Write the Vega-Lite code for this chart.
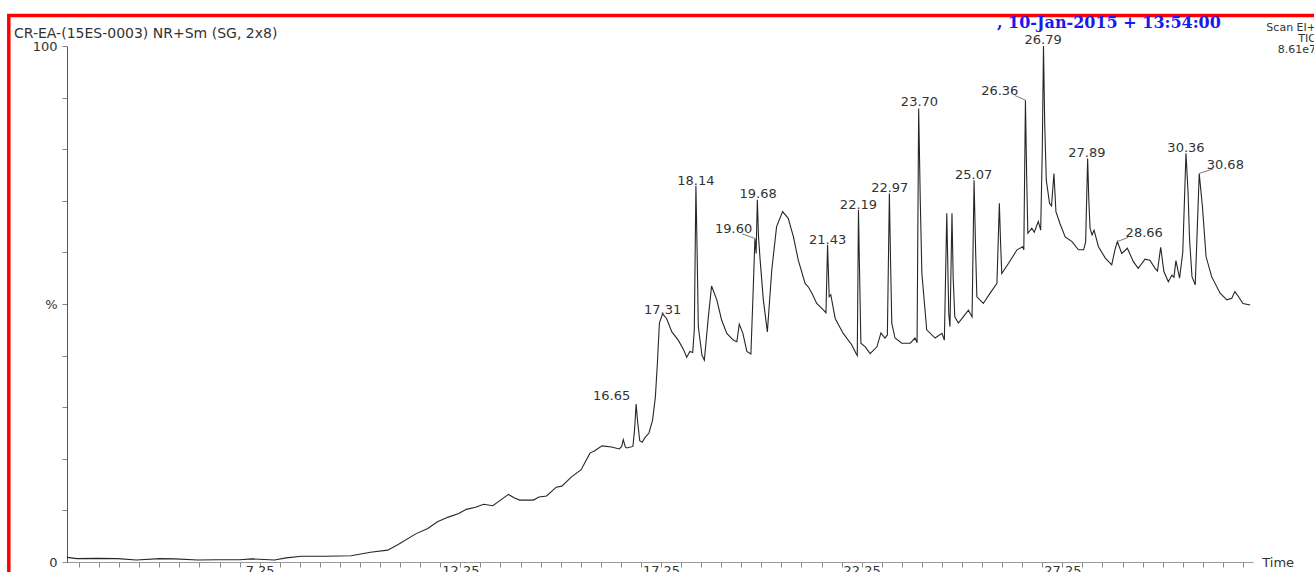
{
"$schema":"https://vega.github.io/schema/vega-lite/v6.json",
"width":1186,"height":516,
"autosize":"none",
"padding":{"left":67,"top":46,"right":61,"bottom":10},
"background":"white",
"config":{"view":{"stroke":null},"font":"DejaVu Sans"},
"data":{"values":[{}]},
"resolve":{"axis":{"x":"independent","y":"independent"}},
"datasets":{
"tic":[
{"t":2.45,"i":0.9},{"t":2.70,"i":0.65},{"t":3.20,"i":0.7},{"t":3.71,"i":0.65},{"t":4.18,"i":0.4},{"t":4.76,"i":0.65},{"t":5.14,"i":0.6},{"t":5.71,"i":0.4},{"t":6.20,"i":0.45},{"t":6.76,"i":0.45},{"t":7.05,"i":0.6},{"t":7.62,"i":0.4},{"t":7.91,"i":0.8},{"t":8.29,"i":1.1},{"t":8.90,"i":1.1},{"t":9.53,"i":1.2},{"t":10.01,"i":1.9},{"t":10.44,"i":2.3},{"t":10.68,"i":3.3},{"t":11.15,"i":5.5},{"t":11.44,"i":6.5},{"t":11.68,"i":7.8},{"t":11.95,"i":8.7},{"t":12.21,"i":9.4},{"t":12.40,"i":10.2},{"t":12.63,"i":10.6},{"t":12.83,"i":11.2},{"t":13.06,"i":10.9},{"t":13.25,"i":12.0},{"t":13.45,"i":13.1},{"t":13.60,"i":12.4},{"t":13.73,"i":12.0},{"t":14.07,"i":12.0},{"t":14.21,"i":12.6},{"t":14.40,"i":12.8},{"t":14.64,"i":14.5},{"t":14.78,"i":14.7},{"t":15.02,"i":16.5},{"t":15.26,"i":17.9},{"t":15.48,"i":21.1},{"t":15.59,"i":21.5},{"t":15.78,"i":22.5},{"t":16.02,"i":22.3},{"t":16.21,"i":21.9},{"t":16.27,"i":22.4},{"t":16.31,"i":23.7},{"t":16.36,"i":22.3},{"t":16.40,"i":22.1},{"t":16.55,"i":22.4},{"t":16.59,"i":25.5},{"t":16.63,"i":30.6},{"t":16.67,"i":27},{"t":16.72,"i":23.5},{"t":16.78,"i":23.2},{"t":16.86,"i":24.2},{"t":16.95,"i":25},{"t":17.04,"i":27.5},{"t":17.11,"i":32},{"t":17.16,"i":38.5},{"t":17.21,"i":46.3},{"t":17.29,"i":48.1},{"t":17.39,"i":47.2},{"t":17.52,"i":44.6},{"t":17.68,"i":43.0},{"t":17.81,"i":41.2},{"t":17.89,"i":39.7},{"t":17.97,"i":40.8},{"t":18.04,"i":40.6},{"t":18.08,"i":45},{"t":18.12,"i":72.9},{"t":18.15,"i":60},{"t":18.18,"i":45.6},{"t":18.27,"i":40.1},{"t":18.33,"i":39.1},{"t":18.43,"i":47.5},{"t":18.51,"i":53.5},{"t":18.64,"i":50.8},{"t":18.76,"i":46.9},{"t":18.89,"i":44.3},{"t":19.05,"i":43.0},{"t":19.14,"i":42.7},{"t":19.20,"i":46.1},{"t":19.29,"i":44.3},{"t":19.39,"i":40.8},{"t":19.49,"i":40.3},{"t":19.55,"i":53.4},{"t":19.59,"i":62.7},{"t":19.62,"i":59.8},{"t":19.65,"i":70.2},{"t":19.68,"i":63},{"t":19.72,"i":58.5},{"t":19.80,"i":50.8},{"t":19.90,"i":44.6},{"t":20.01,"i":56.6},{"t":20.13,"i":65.0},{"t":20.28,"i":67.9},{"t":20.42,"i":66.6},{"t":20.55,"i":63.0},{"t":20.67,"i":58.5},{"t":20.84,"i":54.0},{"t":20.93,"i":53.2},{"t":21.01,"i":52.1},{"t":21.13,"i":50.1},{"t":21.30,"i":48.8},{"t":21.36,"i":48.3},{"t":21.40,"i":61.5},{"t":21.44,"i":51.4},{"t":21.48,"i":51.8},{"t":21.59,"i":47.2},{"t":21.79,"i":44.3},{"t":22.00,"i":42.1},{"t":22.11,"i":40.4},{"t":22.14,"i":40.0},{"t":22.17,"i":68.2},{"t":22.20,"i":55},{"t":22.23,"i":42.4},{"t":22.34,"i":41.7},{"t":22.46,"i":40.4},{"t":22.63,"i":41.7},{"t":22.73,"i":44.4},{"t":22.83,"i":43.4},{"t":22.89,"i":44},{"t":22.94,"i":71.4},{"t":22.97,"i":58},{"t":23.00,"i":46.3},{"t":23.08,"i":43.4},{"t":23.25,"i":42.4},{"t":23.46,"i":42.4},{"t":23.58,"i":43.4},{"t":23.63,"i":42.5},{"t":23.67,"i":87.9},{"t":23.71,"i":70},{"t":23.75,"i":55.9},{"t":23.87,"i":45.0},{"t":24.08,"i":43.4},{"t":24.25,"i":44.3},{"t":24.31,"i":43.0},{"t":24.37,"i":67.6},{"t":24.42,"i":48},{"t":24.45,"i":45.6},{"t":24.50,"i":67.6},{"t":24.53,"i":55},{"t":24.57,"i":47.5},{"t":24.66,"i":46.3},{"t":24.78,"i":47.5},{"t":24.91,"i":48.8},{"t":25.00,"i":47.5},{"t":25.05,"i":74.0},{"t":25.09,"i":60},{"t":25.12,"i":51.4},{"t":25.28,"i":50.1},{"t":25.45,"i":52.1},{"t":25.62,"i":54.0},{"t":25.68,"i":69.5},{"t":25.71,"i":62},{"t":25.74,"i":55.9},{"t":25.91,"i":57.9},{"t":26.12,"i":60.5},{"t":26.26,"i":61.1},{"t":26.29,"i":60.5},{"t":26.33,"i":89.5},{"t":26.36,"i":75},{"t":26.39,"i":63.7},{"t":26.49,"i":64.7},{"t":26.55,"i":63.9},{"t":26.65,"i":66.0},{"t":26.71,"i":64.3},{"t":26.75,"i":80},{"t":26.78,"i":100},{"t":26.81,"i":85},{"t":26.85,"i":74},{"t":26.93,"i":69.5},{"t":26.98,"i":69},{"t":27.04,"i":75.3},{"t":27.09,"i":67.9},{"t":27.19,"i":65.6},{"t":27.32,"i":63.0},{"t":27.49,"i":62.1},{"t":27.65,"i":60.5},{"t":27.78,"i":60.5},{"t":27.83,"i":62},{"t":27.88,"i":78.2},{"t":27.91,"i":70},{"t":27.94,"i":64.7},{"t":27.99,"i":63.4},{"t":28.04,"i":64.3},{"t":28.15,"i":61.1},{"t":28.32,"i":58.9},{"t":28.48,"i":57.6},{"t":28.56,"i":60.5},{"t":28.62,"i":62.1},{"t":28.73,"i":59.8},{"t":28.87,"i":60.8},{"t":29.02,"i":58.2},{"t":29.14,"i":56.9},{"t":29.31,"i":58.7},{"t":29.43,"i":58.5},{"t":29.56,"i":56.9},{"t":29.62,"i":56.4},{"t":29.70,"i":61.0},{"t":29.78,"i":56.3},{"t":29.89,"i":54.3},{"t":29.98,"i":55.6},{"t":30.03,"i":55.2},{"t":30.08,"i":58.4},{"t":30.17,"i":55.0},{"t":30.25,"i":60},{"t":30.33,"i":79.2},{"t":30.38,"i":72},{"t":30.42,"i":62.4},{"t":30.48,"i":55.3},{"t":30.56,"i":53.7},{"t":30.60,"i":62},{"t":30.66,"i":75.3},{"t":30.74,"i":68.9},{"t":30.83,"i":59.2},{"t":30.97,"i":55.3},{"t":31.18,"i":52.1},{"t":31.35,"i":50.8},{"t":31.47,"i":51.1},{"t":31.55,"i":52.4},{"t":31.64,"i":51.4},{"t":31.75,"i":50.1},{"t":31.93,"i":49.8}
],
"peaks":[
{"label":"16.65","t":16.63,"peak":30.6,"lt":16.02,"ly":32.2},
{"label":"17.31","t":17.29,"peak":48.1,"lt":17.29,"ly":48.8},
{"label":"18.14","t":18.12,"peak":72.9,"lt":18.12,"ly":73.8},
{"label":"19.60","t":19.59,"peak":62.7,"lt":19.06,"ly":64.5,"ex":19.27,"ey":63.6},
{"label":"19.68","t":19.65,"peak":70.2,"lt":19.67,"ly":71.3},
{"label":"21.43","t":21.40,"peak":61.5,"lt":21.40,"ly":62.5},
{"label":"22.19","t":22.17,"peak":68.2,"lt":22.17,"ly":69.2},
{"label":"22.97","t":22.94,"peak":71.4,"lt":22.95,"ly":72.5},
{"label":"23.70","t":23.67,"peak":87.9,"lt":23.69,"ly":89.1},
{"label":"25.07","t":25.05,"peak":74.0,"lt":25.04,"ly":75.0},
{"label":"26.36","t":26.33,"peak":89.5,"lt":25.69,"ly":91.3,"ex":26.07,"ey":90.4},
{"label":"26.79","t":26.78,"peak":100,"lt":26.77,"ly":101.1},
{"label":"27.89","t":27.88,"peak":78.2,"lt":27.86,"ly":79.3},
{"label":"28.66","t":28.62,"peak":62.1,"lt":29.29,"ly":63.7,"ex":28.89,"ey":62.9},
{"label":"30.36","t":30.33,"peak":79.2,"lt":30.33,"ly":80.3},
{"label":"30.68","t":30.66,"peak":75.3,"lt":31.31,"ly":76.9,"ex":31.01,"ey":76.2}
]
},
"layer":[
{"data":{"name":"tic"},
 "mark":{"type":"line","color":"#262626","strokeWidth":1.1},
 "encoding":{
  "x":{"field":"t","type":"quantitative","scale":{"domain":[2.45,32.0],"nice":false,"zero":false},
   "axis":{"orient":"bottom","title":null,"grid":false,"values":[2.75,3.25,3.75,4.25,4.75,5.25,5.75,6.25,6.75,7.25,7.75,8.25,8.75,9.25,9.75,10.25,10.75,11.25,11.75,12.25,12.75,13.25,13.75,14.25,14.75,15.25,15.75,16.25,16.75,17.25,17.75,18.25,18.75,19.25,19.75,20.25,20.75,21.25,21.75,22.25,22.75,23.25,23.75,24.25,24.75,25.25,25.75,26.25,26.75,27.25,27.75,28.25,28.75,29.25,29.75,30.25,30.75,31.25,31.75],
    "labelExpr":"indexof([7.25,12.25,17.25,22.25,27.25], datum.value) >= 0 ? format(datum.value, '.2f') : ''",
    "tickSize":5,"labelPadding":-3,"domainColor":"#999","tickColor":"#888","labelColor":"#333","labelFontSize":13,"labelFont":"DejaVu Sans","labelOverlap":false,"labelFlush":false}},
  "y":{"field":"i","type":"quantitative","scale":{"domain":[0,100],"nice":false,"zero":false},
   "axis":{"orient":"left","title":null,"grid":false,"values":[0,10,20,30,40,50,60,70,80,90,100],
    "labelExpr":"datum.value === 100 ? '100' : datum.value === 50 ? '%' : datum.value === 0 ? '0' : ''",
    "tickSize":5,"labelPadding":5,"domainColor":"#555","tickColor":"#888","labelColor":"#333","labelFontSize":13,"labelFont":"DejaVu Sans","labelOverlap":false,"labelFlush":false,
    "encode":{"ticks":{"update":{"x2":{"signal":"datum.value % 50 === 0 ? -10 : -5"}}}}}}}},
{"mark":{"type":"rect","fillOpacity":0,"stroke":"#ff0000","strokeWidth":3.5},
 "encoding":{
  "x":{"datum":1.0,"type":"quantitative","axis":null},
  "x2":{"datum":34},
  "y":{"datum":105.9,"type":"quantitative","axis":null},
  "y2":{"datum":-5}}},
{"data":{"name":"peaks"},
 "transform":[{"filter":"isValid(datum.ex)"}],
 "mark":{"type":"rule","color":"#777","strokeWidth":1},
 "encoding":{
  "x":{"field":"ex","type":"quantitative","axis":null},
  "y":{"field":"ey","type":"quantitative","axis":null},
  "x2":{"field":"t"},
  "y2":{"field":"peak"}}},
{"data":{"name":"peaks"},
 "mark":{"type":"text","font":"DejaVu Sans","fontSize":13,"color":"#333","align":"center","baseline":"middle"},
 "encoding":{
  "x":{"field":"lt","type":"quantitative","axis":null},
  "y":{"field":"ly","type":"quantitative","axis":null},
  "text":{"field":"label","type":"nominal"}}},
{"mark":{"type":"text","text":"CR-EA-(15ES-0003) NR+Sm (SG, 2x8)","font":"DejaVu Sans","fontSize":14,"color":"#333","align":"left","baseline":"middle"},
 "encoding":{"x":{"datum":1.13,"type":"quantitative","axis":null},"y":{"datum":102.4,"type":"quantitative","axis":null}}},
{"mark":{"type":"text","text":", 10-Jan-2015 + 13:54:00","font":"DejaVu Serif","fontWeight":"bold","fontSize":16,"color":"#1a1aee","align":"left","baseline":"middle"},
 "encoding":{"x":{"datum":25.62,"type":"quantitative","axis":null},"y":{"datum":104.4,"type":"quantitative","axis":null}}},
{"mark":{"type":"text","text":"Scan EI+","font":"DejaVu Sans","fontSize":11,"color":"#333","align":"right","baseline":"middle"},
 "encoding":{"x":{"datum":33.57,"type":"quantitative","axis":null},"y":{"datum":103.5,"type":"quantitative","axis":null}}},
{"mark":{"type":"text","text":"TIC","font":"DejaVu Sans","fontSize":11,"color":"#333","align":"right","baseline":"middle"},
 "encoding":{"x":{"datum":33.57,"type":"quantitative","axis":null},"y":{"datum":101.4,"type":"quantitative","axis":null}}},
{"mark":{"type":"text","text":"8.61e7","font":"DejaVu Sans","fontSize":11,"color":"#333","align":"right","baseline":"middle"},
 "encoding":{"x":{"datum":33.57,"type":"quantitative","axis":null},"y":{"datum":99.2,"type":"quantitative","axis":null}}},
{"mark":{"type":"text","text":"Time","font":"DejaVu Sans","fontSize":13,"color":"#333","align":"left","baseline":"middle"},
 "encoding":{"x":{"datum":32.23,"type":"quantitative","axis":null},"y":{"datum":-0.2,"type":"quantitative","axis":null}}}
]
}
